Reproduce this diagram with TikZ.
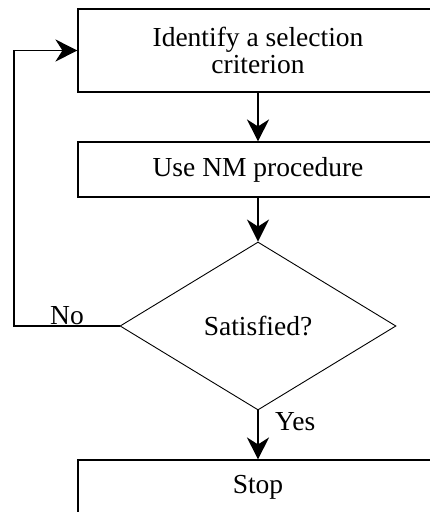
\documentclass[tikz,border=0pt]{standalone}
\usepackage{fontspec}
\setmainfont{Liberation Serif}
\usetikzlibrary{shapes.geometric,arrows.meta}
\tikzset{
  stepbox/.style={draw, line width=1.1pt, minimum width=360pt, inner sep=0pt,
    align=center, font=\fontsize{27.5}{27}\selectfont},
  decision/.style={draw, shape=diamond, line width=0.9pt, inner sep=0pt,
    minimum width=276pt, minimum height=168pt, font=\fontsize{27.5}{27}\selectfont},
  flow/.style={line width=1.8pt, -{Stealth[length=22pt,width=22pt,inset=7pt]}},
  lbl/.style={inner sep=0pt, font=\fontsize{27.5}{27}\selectfont}
}
\begin{document}
\begin{tikzpicture}[x=1pt,y=-1pt]
  \useasboundingbox (0,0) rectangle (430,512);
  \clip (0,0) rectangle (430,512);

  % process steps
  \node[stepbox, minimum height=83pt] (ident) at (258,50.5) {Identify a selection\\criterion};
  \node[stepbox, minimum height=55pt] (nm) at (258,169.5) {Use NM procedure};
  \node[decision] (sat) at (258,326) {Satisfied?};
  \node[stepbox, minimum height=55pt] (stop) at (258,487.5) {Stop};

  % main flow
  \draw[flow] (ident.south) -- (nm.north);
  \draw[flow] (nm.south) -- (sat.north);
  \draw[flow] (sat.south) -- (stop.north);

  % loop back on "No"
  \coordinate (loop) at (14,326);
  \draw[flow] (sat.west) -- (loop) |- (ident.west);

  % branch labels
  \node[lbl, anchor=base] (no) at (67,324) {No};
  \node[lbl, anchor=base west] (yes) at (275,430) {Yes};
\end{tikzpicture}
\end{document}
